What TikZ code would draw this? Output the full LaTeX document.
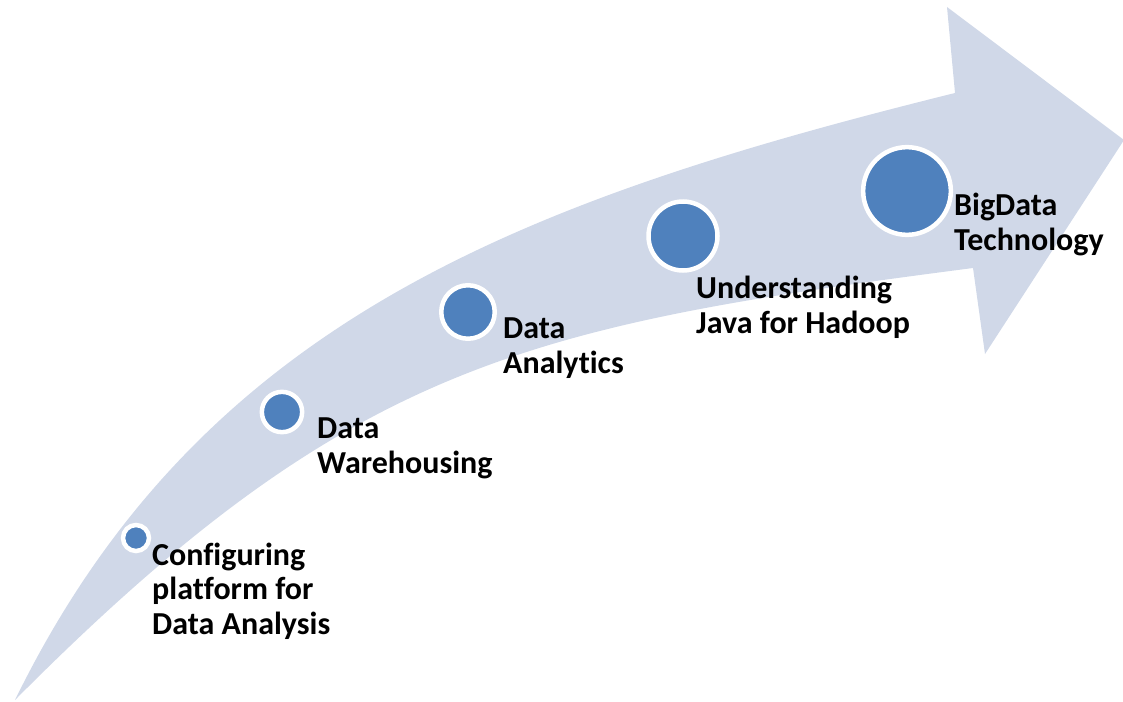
\documentclass[tikz,border=0pt]{standalone}
\usepackage{fontspec}
\setmainfont{Carlito}[Ligatures=NoCommon]
\usepackage{tikz}
\definecolor{bandgray}{HTML}{D0D8E8}
\definecolor{dotblue}{HTML}{4F81BD}

\begin{document}
\begin{tikzpicture}[x=1pt,y=-1pt,
		milestone/.style={circle,fill=dotblue,draw=white,line width=4.5pt,inner sep=0pt},
		steplabel/.style={anchor=base west,align=left,inner sep=0pt,font=\fontsize{32}{34.5}\selectfont\bfseries}]
		\useasboundingbox (0,0) rectangle (1123,701);
		
		% curved arrow
		\fill[bandgray] (15,700) .. controls (200,322) and (519,201) .. (955,93) -- (947,7) -- (1124,140) -- (985,354) -- (973,268) .. controls (527,326) and (351,362) .. (15,700) -- cycle;
		
		\node[milestone,minimum size=26pt] (c1) at (136,538) {};
		\node[milestone,minimum size=40.3pt] (c2) at (282,412) {};
		\node[milestone,minimum size=53.5pt] (c3) at (468,312) {};
		\node[milestone,minimum size=69pt] (c4) at (683,236) {};
		\node[milestone,minimum size=87.7pt] (c5) at (907,191) {};
		
		% labels, placed by their last line
		\node[steplabel] (t1) at (152,634) {Configuring\\platform for\\Data Analysis};
		\node[steplabel] (t2) at (317,473) {Data\\Warehousing};
		\node[steplabel] (t3) at (503,373) {Data\\Analytics};
		\node[steplabel] (t4) at (696,333) {Understanding\\Java for Hadoop};
		\node[steplabel] (t5) at (954,250) {BigData\\Technology};
		
	\end{tikzpicture}
\end{document}
